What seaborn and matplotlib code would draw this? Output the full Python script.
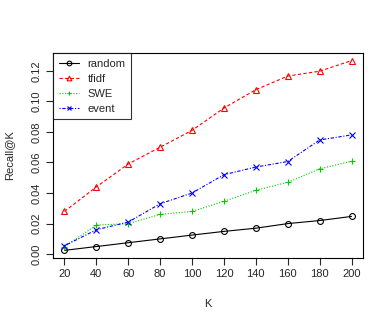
import seaborn as sns
import pandas as pd
import matplotlib.pyplot as plt

k = [20, 40, 60, 80, 100, 120, 140, 160, 180, 200]
random_vals = [0.0025, 0.005, 0.0075, 0.010, 0.0125, 0.0149, 0.017, 0.020, 0.022, 0.0247]
tfidf_vals = [0.028, 0.044, 0.059, 0.070, 0.081, 0.0956, 0.1076, 0.1165, 0.1197, 0.1266]
swe_vals = [0.005, 0.019, 0.020, 0.026, 0.028, 0.0346, 0.0418, 0.047, 0.0558, 0.0608]
event_vals = [0.0055, 0.016, 0.021, 0.033, 0.040, 0.052, 0.057, 0.0606, 0.0747, 0.078]

sns.set_style('ticks')
plt.rcParams['font.family'] = ['Liberation Sans', 'DejaVu Sans']

df = pd.DataFrame({'K': k, 'random': random_vals, 'tfidf': tfidf_vals,
                   'SWE': swe_vals, 'event': event_vals})

# name, colour, marker, linestyle
series = [
    ('random', 'black', 'o', '-'),
    ('tfidf', '#FF0000', '^', (0, (3, 2))),
    ('SWE', '#00CD00', '+', (0, (1, 1.5))),
    ('event', '#0000FF', 'x', (0, (1, 1.5, 3, 1.5))),
]

fig = plt.figure(figsize=(3.9, 3.25), dpi=100)
ax = fig.add_axes([53 / 390, 1 - 258 / 325, 310 / 390, 205 / 325])

for name, col, mk, ls in series:
    sns.lineplot(data=df, x='K', y=name, ax=ax, color=col, marker=mk,
                 linestyle=ls, linewidth=0.8, markersize=4.2,
                 markerfacecolor='none' if mk in ('o', '^') else col,
                 markeredgecolor=col, markeredgewidth=0.8, label=name)

ax.set_xlim(12.8, 207.2)
ax.set_ylim(-0.0025, 0.1316)
ax.set_xticks(k)
ax.set_yticks([0.0, 0.02, 0.04, 0.06, 0.08, 0.10, 0.12])
ax.set_yticklabels(['0.00', '0.02', '0.04', '0.06', '0.08', '0.10', '0.12'],
                   rotation=90, va='center')
ax.tick_params(labelsize=8, length=5, width=0.8, direction='out', pad=3)
for s in ax.spines.values():
    s.set_visible(True)
    s.set_linewidth(0.8)
    s.set_color('black')

ax.set_xlabel('K', fontsize=8, labelpad=14)
ax.set_ylabel('Recall@K', fontsize=8, labelpad=13)

leg = ax.legend(loc='upper left', fontsize=8, frameon=True, fancybox=False,
                borderaxespad=0, handlelength=1.8, handletextpad=0.8,
                labelspacing=0.45, borderpad=0.5, markerscale=0.8)
leg.get_frame().set_edgecolor('black')
leg.get_frame().set_linewidth(0.8)

fig.savefig('out.png', dpi=100)
